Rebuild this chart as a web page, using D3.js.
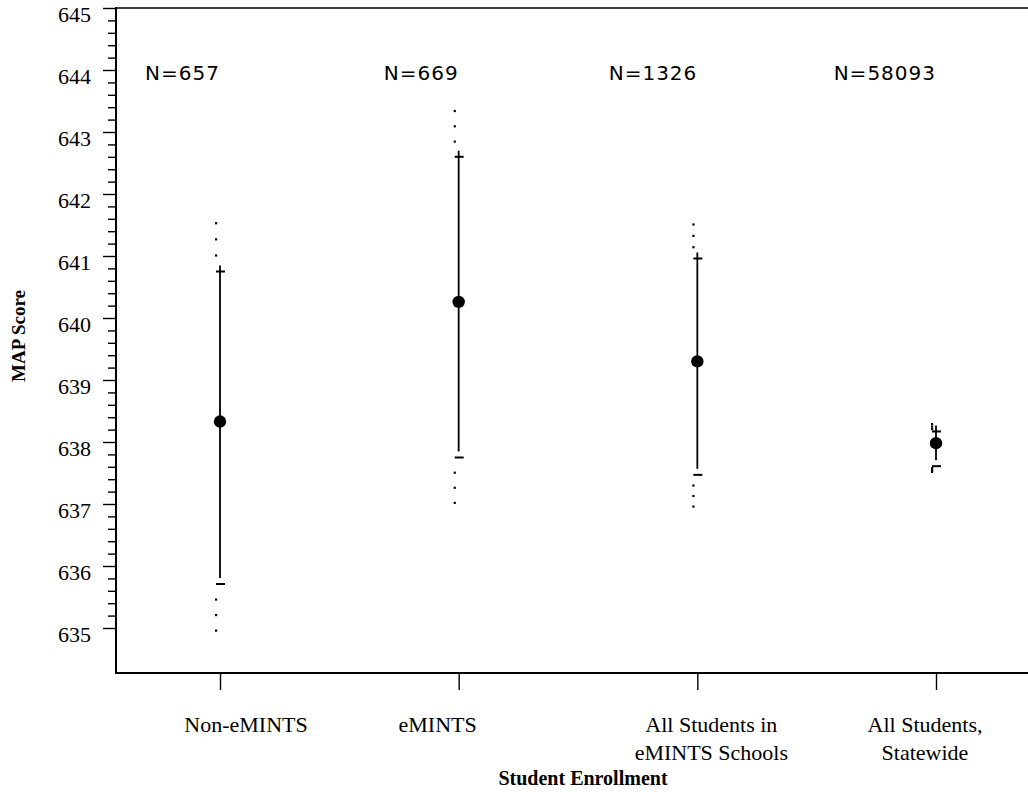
<!DOCTYPE html>
<html>
<head>
<meta charset="utf-8">
<script src="https://cdn.jsdelivr.net/npm/d3@7/dist/d3.min.js"></script>
<style>
  html, body { margin: 0; padding: 0; background: #fff; }
  svg { display: block; }
</style>
</head>
<body>
<svg id="chart" width="1028" height="792"></svg>
<script>
// ---- data ----
const categories = ["Non-eMINTS", "eMINTS", "All Students in eMINTS Schools", "All Students, Statewide"];
const categoryLabelLines = [["Non-eMINTS"], ["eMINTS"], ["All Students in", "eMINTS Schools"], ["All Students,", "Statewide"]];
const nLabels = ["N=657", "N=669", "N=1326", "N=58093"];
const means = [638.33, 640.26, 639.30, 637.98];
const upperInner = [640.75, 642.60, 640.96, 638.17];
const lowerInner = [635.71, 637.75, 637.47, 637.61];
const upperOuter = [641.53, 643.34, 641.51, 638.29];
const lowerOuter = [634.96, 637.02, 636.96, 637.52];
const yTickValues = [635, 636, 637, 638, 639, 640, 641, 642, 643, 644, 645];
const yLabel = "MAP Score";
const xLabel = "Student Enrollment";

// ---- layout / style ----
const labelDx = [26, -21, 14, -11];
const serif = "'Liberation Serif', 'Times New Roman', serif";
const sans = "'DejaVu Sans', sans-serif";

const svg = d3.select("#chart");
const axisLeftX = 116, axisTopY = 8, axisBottomY = 673, rightX = 1028;

const y = d3.scaleLinear().domain([635, 645]).range([628, 8]);
const x = d3.scalePoint().domain(categories).range([220, 936]);

// minor ticks
const minorVals = d3.range(0, 51).map(i => 635 + i * 0.2).filter(v => Math.abs(v - Math.round(v)) > 1e-6);
const minorAxis = svg.append("g")
  .attr("transform", `translate(${axisLeftX},0)`)
  .call(d3.axisLeft(y).tickValues(minorVals).tickSize(8).tickFormat(""));
minorAxis.select(".domain").remove();
minorAxis.selectAll("line").attr("stroke", "#000").attr("stroke-width", 1.4);

// major ticks
const majorAxis = svg.append("g")
  .attr("transform", `translate(${axisLeftX},0)`)
  .call(d3.axisLeft(y).tickValues(yTickValues).tickSize(13).tickPadding(12).tickFormat(d3.format("d")));
majorAxis.select(".domain").remove();
majorAxis.selectAll("line").attr("stroke", "#000").attr("stroke-width", 1.4);
majorAxis.selectAll("text")
  .attr("dy", "13px")
  .attr("fill", "#000")
  .style("font-family", serif)
  .style("font-size", "22px");

// frame lines
svg.append("line").attr("x1", axisLeftX).attr("x2", axisLeftX).attr("y1", axisTopY - 1).attr("y2", axisBottomY + 1)
  .attr("stroke", "#000").attr("stroke-width", 2);
svg.append("line").attr("x1", axisLeftX).attr("x2", rightX).attr("y1", axisTopY).attr("y2", axisTopY)
  .attr("stroke", "#000").attr("stroke-width", 1.6);
svg.append("line").attr("x1", axisLeftX).attr("x2", rightX).attr("y1", axisBottomY).attr("y2", axisBottomY)
  .attr("stroke", "#000").attr("stroke-width", 2);

// x ticks
const xAxis = svg.append("g")
  .attr("transform", `translate(0,${axisBottomY})`)
  .call(d3.axisBottom(x).tickSize(17).tickFormat(""));
xAxis.select(".domain").remove();
xAxis.selectAll("line").attr("stroke", "#000").attr("stroke-width", 1.4);

// category labels
categories.forEach((c, i) => {
  const t = svg.append("text")
    .attr("text-anchor", "middle")
    .style("font-family", serif)
    .style("font-size", "22px")
    .attr("fill", "#000");
  categoryLabelLines[i].forEach((line, j) => {
    t.append("tspan").attr("x", x(c) + labelDx[i]).attr("y", 732 + j * 28).text(line);
  });
});

// axis titles
svg.append("text")
  .attr("x", 583).attr("y", 785)
  .attr("text-anchor", "middle")
  .style("font-family", serif).style("font-size", "20px").style("font-weight", "bold")
  .text(xLabel);
svg.append("text")
  .attr("transform", "translate(25,336) rotate(-90)")
  .attr("text-anchor", "middle")
  .style("font-family", serif).style("font-size", "19px").style("font-weight", "bold")
  .text(yLabel);

// N labels
categories.forEach((c, i) => {
  svg.append("text")
    .attr("x", x(c)).attr("y", 80)
    .attr("text-anchor", "end")
    .style("font-family", sans).style("font-size", "20px")
    .style("letter-spacing", "1px")
    .attr("fill", "#000")
    .text(nLabels[i]);
});

// error bars
const g = svg.append("g");
categories.forEach((c, i) => {
  const cx = x(c);
  const shift = -6;
  // dotted outer segments: 3 dots each side
  const dotX = cx - 4;
  [1, 2, 3].forEach(k => {
    const yu = y(upperInner[i]) + (y(upperOuter[i]) - y(upperInner[i])) * k / 3;
    const yl = y(lowerInner[i]) + (y(lowerOuter[i]) - y(lowerInner[i])) * k / 3;
    g.append("rect").attr("x", dotX - 1).attr("y", yu - 1).attr("width", 2.2).attr("height", 2.2).attr("fill", "#000");
    g.append("rect").attr("x", dotX - 1).attr("y", yl - 1).attr("width", 2.2).attr("height", 2.2).attr("fill", "#000");
  });
  // solid line
  g.append("line")
    .attr("x1", cx).attr("x2", cx)
    .attr("y1", y(upperInner[i]) + shift).attr("y2", y(lowerInner[i]) + shift)
    .attr("stroke", "#000").attr("stroke-width", 1.8);
  // plus / minus bars
  [upperInner[i], lowerInner[i]].forEach(v => {
    g.append("line")
      .attr("x1", cx - 4).attr("x2", cx + 5)
      .attr("y1", y(v)).attr("y2", y(v))
      .attr("stroke", "#000").attr("stroke-width", 2);
  });
  // mean marker
  g.append("circle").attr("cx", cx).attr("cy", y(means[i])).attr("r", 6.2).attr("fill", "#000");
});
</script>
</body>
</html>
